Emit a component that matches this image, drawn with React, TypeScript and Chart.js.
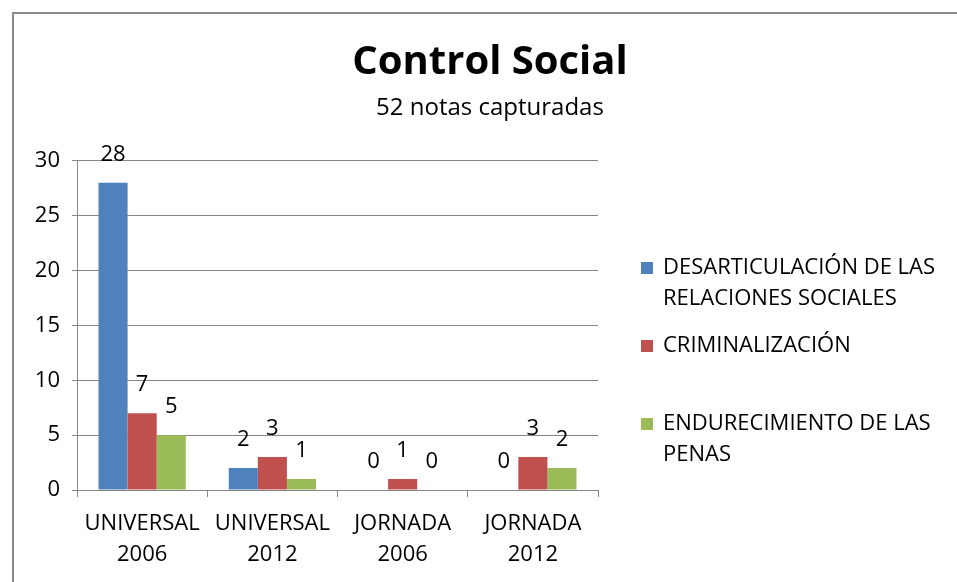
import React, { useEffect, useRef } from "react";
import { Chart, registerables, layouts } from "chart.js";

Chart.register(...registerables);

// ---- data ----
const categories: string[][] = [
  ["UNIVERSAL", "2006"],
  ["UNIVERSAL", "2012"],
  ["JORNADA", "2006"],
  ["JORNADA", "2012"],
];
const seriesNames = [
  "DESARTICULACIÓN DE LAS RELACIONES SOCIALES",
  "CRIMINALIZACIÓN",
  "ENDURECIMIENTO DE LAS PENAS",
];
const desarticulacion = [28, 2, 0, 0];
const criminalizacion = [7, 3, 1, 3];
const endurecimiento = [5, 1, 0, 2];
const seriesColors = ["#4F81BD", "#C0504D", "#9BBB59"];
const yMin = 0;
const yMax = 30;
const yStep = 5;
const titleText = "Control Social";
const subtitleText = "52 notas capturadas";

const FONT = '"Open Sans", "DejaVu Sans", sans-serif';
const GRID = "#868686";
const LEGEND_WIDTH = 368;

const dataLabelPlugin = {
  id: "dataLabelPlugin",
  afterDatasetsDraw(chart: any) {
    const ctx = chart.ctx;
    ctx.save();
    ctx.font = `22px ${FONT}`;
    ctx.fillStyle = "#000";
    ctx.textAlign = "center";
    ctx.textBaseline = "middle";
    chart.data.datasets.forEach((ds: any, i: number) => {
      const meta = chart.getDatasetMeta(i);
      meta.data.forEach((el: any, j: number) => {
        ctx.fillText(String(ds.data[j]), el.x, el.y - 28);
      });
    });
    ctx.restore();
  },
};

function drawLegend(chart: any, left: number) {
  const ctx = chart.ctx;
  ctx.save();
  ctx.font = `22px ${FONT}`;
  ctx.textBaseline = "middle";
  ctx.textAlign = "left";
  const boxX = left + 43;
  const textX = left + 65;
  const maxW = 292;
  const lineH = 31;
  const slot = 78;
  let y = 254;
  chart.data.datasets.forEach((ds: any) => {
    const words = String(ds.label).split(" ");
    const lines: string[] = [];
    let cur = "";
    words.forEach((w) => {
      const test = cur ? cur + " " + w : w;
      if (ctx.measureText(test).width > maxW && cur) {
        lines.push(cur);
        cur = w;
      } else cur = test;
    });
    if (cur) lines.push(cur);
    ctx.fillStyle = ds.backgroundColor;
    ctx.fillRect(boxX, y - 6, 12, 12);
    ctx.fillStyle = "#000";
    lines.forEach((ln, k) => ctx.fillText(ln, textX, y + k * lineH));
    y += slot;
  });
  ctx.restore();
}

const sideLegendPlugin = {
  id: "sideLegend",
  beforeInit(chart: any) {
    const box: any = {
      position: "right",
      weight: 1000,
      fullSize: false,
      options: { position: "right", weight: 1000, fullSize: false },
      left: 0,
      top: 0,
      right: 0,
      bottom: 0,
      width: LEGEND_WIDTH,
      height: 0,
      isHorizontal() {
        return false;
      },
      getPadding() {
        return { top: 0, left: 0, right: 0, bottom: 0 };
      },
      update(maxWidth: number, maxHeight: number) {
        this.width = LEGEND_WIDTH;
        this.height = maxHeight;
      },
      draw() {
        drawLegend(chart, this.left);
      },
    };
    chart.$sideLegend = box;
    layouts.addBox(chart, box);
  },
  afterDestroy(chart: any) {
    if (chart.$sideLegend) layouts.removeBox(chart, chart.$sideLegend);
  },
};

export default function App() {
  const ref = useRef<HTMLCanvasElement | null>(null);

  useEffect(() => {
    if (!ref.current) return;
    const values = [desarticulacion, criminalizacion, endurecimiento];
    const chart = new Chart(ref.current, {
      type: "bar",
      data: {
        labels: categories,
        datasets: seriesNames.map((name, i) => ({
          label: name,
          data: values[i],
          backgroundColor: seriesColors[i],
          borderWidth: 0,
          categoryPercentage: 0.67,
          barPercentage: 1.0,
        })),
      },
      options: {
        animation: false,
        responsive: true,
        maintainAspectRatio: false,
        layout: { padding: 0 },
        plugins: {
          legend: { display: false },
          tooltip: { enabled: false },
          title: {
            display: true,
            text: titleText,
            color: "#000",
            font: { family: FONT, size: 40, weight: "bold", lineHeight: 1.2 },
            padding: { top: 25, bottom: 0 },
          },
          subtitle: {
            display: true,
            text: subtitleText,
            color: "#000",
            font: { family: FONT, size: 24, lineHeight: 1.2 },
            padding: { top: 7, bottom: 38 },
          },
        },
        scales: {
          x: {
            offset: true,
            grid: {
              display: true,
              offset: true,
              drawOnChartArea: false,
              drawTicks: true,
              tickLength: 7,
              color: GRID,
            },
            border: { display: true, color: GRID },
            ticks: {
              color: "#000",
              autoSkip: false,
              maxRotation: 0,
              minRotation: 0,
              padding: 11,
              font: { family: FONT, size: 22, lineHeight: 1.41 },
            },
            afterFit: (scale: any) => {
              scale.height = 92;
            },
          },
          y: {
            min: yMin,
            max: yMax,
            grid: {
              color: GRID,
              drawTicks: true,
              tickLength: 5,
            },
            border: { display: true, color: GRID },
            ticks: {
              stepSize: yStep,
              color: "#000",
              padding: 12,
              font: { family: FONT, size: 22 },
            },
            afterFit: (scale: any) => {
              scale.width = 63;
            },
          },
        },
      },
      plugins: [dataLabelPlugin, sideLegendPlugin],
    } as any);
    return () => chart.destroy();
  }, []);

  return (
    <div
      style={{
        position: "fixed",
        left: 0,
        top: 0,
        width: 957,
        height: 582,
        overflow: "hidden",
        background: "#fff",
      }}
    >
      <div
        style={{
          position: "absolute",
          left: 12,
          top: 12,
          width: 952,
          height: 568,
          borderLeft: "2px solid #8a8a8a",
          borderTop: "2px solid #8a8a8a",
        }}
      >
        <div style={{ position: "relative", width: 952, height: 568 }}>
          <canvas ref={ref} />
        </div>
      </div>
    </div>
  );
}
